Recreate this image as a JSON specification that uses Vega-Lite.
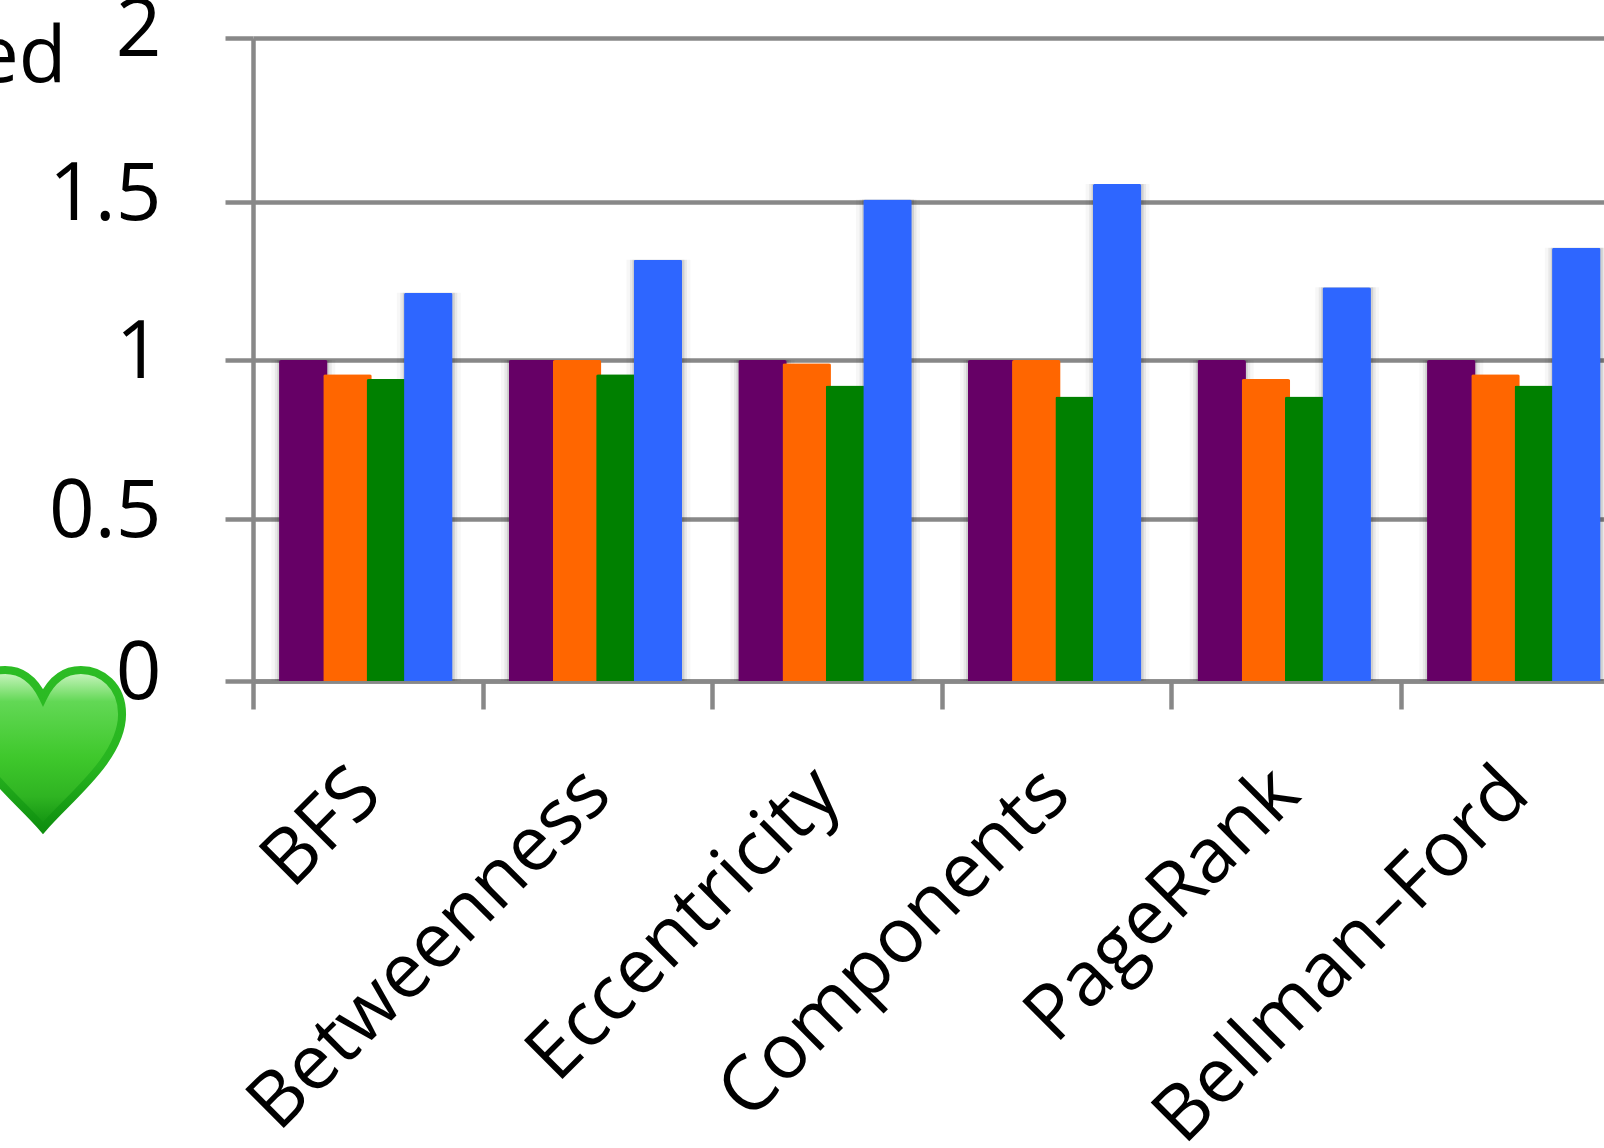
{
  "$schema": "https://vega.github.io/schema/vega-lite/v6.json",
  "width": 1351,
  "height": 643,
  "autosize": {"type": "none"},
  "padding": {"left": 253, "top": 38, "right": 0, "bottom": 467},
  "background": "white",
  "title": {"text": "g", "font": "Open Sans", "fontSize": 78, "fontWeight": "normal", "color": "#000000", "anchor": "start", "frame": "group", "dx": 1130, "offset": 55, "baseline": "alphabetic"},
  "config": {"view": {"stroke": null}, "font": "Open Sans"},
  "datasets": {
    "scores": [
      {"category": "BFS", "series": "A", "value": 1.0},
      {"category": "BFS", "series": "B", "value": 0.955},
      {"category": "BFS", "series": "C", "value": 0.94},
      {"category": "BFS", "series": "D", "value": 1.213},
      {"category": "Betweenness", "series": "A", "value": 1.0},
      {"category": "Betweenness", "series": "B", "value": 1.0},
      {"category": "Betweenness", "series": "C", "value": 0.955},
      {"category": "Betweenness", "series": "D", "value": 1.317},
      {"category": "Eccentricity", "series": "A", "value": 1.0},
      {"category": "Eccentricity", "series": "B", "value": 0.99},
      {"category": "Eccentricity", "series": "C", "value": 0.92},
      {"category": "Eccentricity", "series": "D", "value": 1.508},
      {"category": "Components", "series": "A", "value": 1.0},
      {"category": "Components", "series": "B", "value": 1.0},
      {"category": "Components", "series": "C", "value": 0.885},
      {"category": "Components", "series": "D", "value": 1.555},
      {"category": "PageRank", "series": "A", "value": 1.0},
      {"category": "PageRank", "series": "B", "value": 0.94},
      {"category": "PageRank", "series": "C", "value": 0.885},
      {"category": "PageRank", "series": "D", "value": 1.23},
      {"category": "Bellman–Ford", "series": "A", "value": 1.0},
      {"category": "Bellman–Ford", "series": "B", "value": 0.955},
      {"category": "Bellman–Ford", "series": "C", "value": 0.92},
      {"category": "Bellman–Ford", "series": "D", "value": 1.355}
    ],
    "badge": [{"category": "BFS", "value": -0.21}]
  },
  "data": {"name": "scores"},
  "encoding": {
    "x": {
      "field": "category",
      "type": "nominal",
      "sort": null,
      "title": null,
      "scale": {"type": "band", "paddingInner": 0, "paddingOuter": 0, "range": [0, 1377.6]},
      "axis": {
        "labelAngle": -45,
        "labelAlign": "right",
        "labelBaseline": "middle",
        "labelFont": "Open Sans",
        "labelFontSize": 76.5,
        "labelFontWeight": 500,
        "labelColor": "#000000",
        "labelPadding": 72,
        "labelLimit": 0,
        "labelOverlap": false,
        "labelBound": false,
        "labelFlush": false,
        "tickBand": "extent",
        "tickSize": 28,
        "tickWidth": 4.5,
        "tickColor": "#888888",
        "domainColor": "#888888",
        "domainWidth": 4.5,
        "grid": false
      }
    },
    "y": {
      "field": "value",
      "type": "quantitative",
      "scale": {"domain": [0, 0.5, 1, 1.5, 2], "range": [643, 481, 322, 164, 0]},
      "axis": {
        "values": [0, 0.5, 1, 1.5, 2],
        "format": "~g",
        "title": "Normalized",
        "titleAngle": 0,
        "titleX": -187,
        "titleY": 43,
        "titleAlign": "right",
        "titleBaseline": "alphabetic",
        "titleFont": "Open Sans",
        "titleFontSize": 78,
        "titleFontWeight": 500,
        "titleColor": "#000000",
        "labelFont": "Open Sans",
        "labelFontSize": 80,
        "labelFontWeight": 500,
        "labelColor": "#000000",
        "labelPadding": 64,
        "labelOffset": -7,
        "labelOverlap": false,
        "labelBound": false,
        "labelFlush": false,
        "tickSize": 28,
        "tickWidth": 4.5,
        "tickColor": "#888888",
        "domainColor": "#888888",
        "domainWidth": 4.5,
        "grid": true,
        "gridColor": "#888888",
        "gridWidth": 4.5
      }
    }
  },
  "layer": [
    {"transform": [{"filter": "datum.series === 'A'"}], "mark": {"type": "bar", "width": 64, "xOffset": -64.5, "color": "#000000", "opacity": 0.03}},
    {"transform": [{"filter": "datum.series === 'D'"}], "mark": {"type": "bar", "width": 64, "xOffset": 61, "color": "#000000", "opacity": 0.03}},
    {"transform": [{"filter": "datum.series === 'A'"}], "mark": {"type": "bar", "width": 57, "xOffset": -64.5, "color": "#000000", "opacity": 0.06}},
    {"transform": [{"filter": "datum.series === 'D'"}], "mark": {"type": "bar", "width": 57, "xOffset": 61, "color": "#000000", "opacity": 0.06}},
    {"transform": [{"filter": "datum.series === 'A'"}], "mark": {"type": "bar", "width": 52, "xOffset": -64.5, "color": "#000000", "opacity": 0.1}},
    {"transform": [{"filter": "datum.series === 'D'"}], "mark": {"type": "bar", "width": 52, "xOffset": 61, "color": "#000000", "opacity": 0.1}},
    {"transform": [{"filter": "datum.series === 'A'"}], "mark": {"type": "bar", "width": 48.5, "xOffset": -64.5, "color": "#660066", "cornerRadiusTopLeft": 2, "cornerRadiusTopRight": 2}},
    {"transform": [{"filter": "datum.series === 'B'"}], "mark": {"type": "bar", "width": 48.5, "xOffset": -20.3, "color": "#ff6600", "cornerRadiusTopLeft": 2, "cornerRadiusTopRight": 2}},
    {"transform": [{"filter": "datum.series === 'C'"}], "mark": {"type": "bar", "width": 48.5, "xOffset": 23, "color": "#008000", "cornerRadiusTopLeft": 2, "cornerRadiusTopRight": 2}},
    {"transform": [{"filter": "datum.series === 'D'"}], "mark": {"type": "bar", "width": 48.5, "xOffset": 60.5, "color": "#2e66ff", "cornerRadiusTopLeft": 2, "cornerRadiusTopRight": 2}},
    {
      "data": {"name": "badge"},
      "mark": {
        "type": "point",
        "filled": true,
        "xOffset": -324.8,
        "size": 25000,
        "shape": "M0,1 C-0.32,0.62 -1,0.12 -1,-0.44 C-1,-0.8 -0.74,-1 -0.48,-1 C-0.27,-1 -0.11,-0.88 0,-0.65 C0.11,-0.88 0.27,-1 0.48,-1 C0.74,-1 1,-0.8 1,-0.44 C1,0.12 0.32,0.62 0,1 Z",
        "opacity": 1,
        "strokeWidth": 8,
        "stroke": {"gradient": "linear", "x1": 0, "y1": 0, "x2": 0, "y2": 1, "stops": [{"offset": 0, "color": "#2cbc24"}, {"offset": 0.6, "color": "#28b520"}, {"offset": 1, "color": "#0f900f"}]},
        "fill": {"gradient": "linear", "x1": 0, "y1": 0, "x2": 0, "y2": 1, "stops": [{"offset": 0, "color": "#d2f7c8"}, {"offset": 0.2, "color": "#62d855"}, {"offset": 0.55, "color": "#3fc82c"}, {"offset": 0.8, "color": "#2fb422"}, {"offset": 1, "color": "#0f900f"}]}
      }
    }
  ]
}
